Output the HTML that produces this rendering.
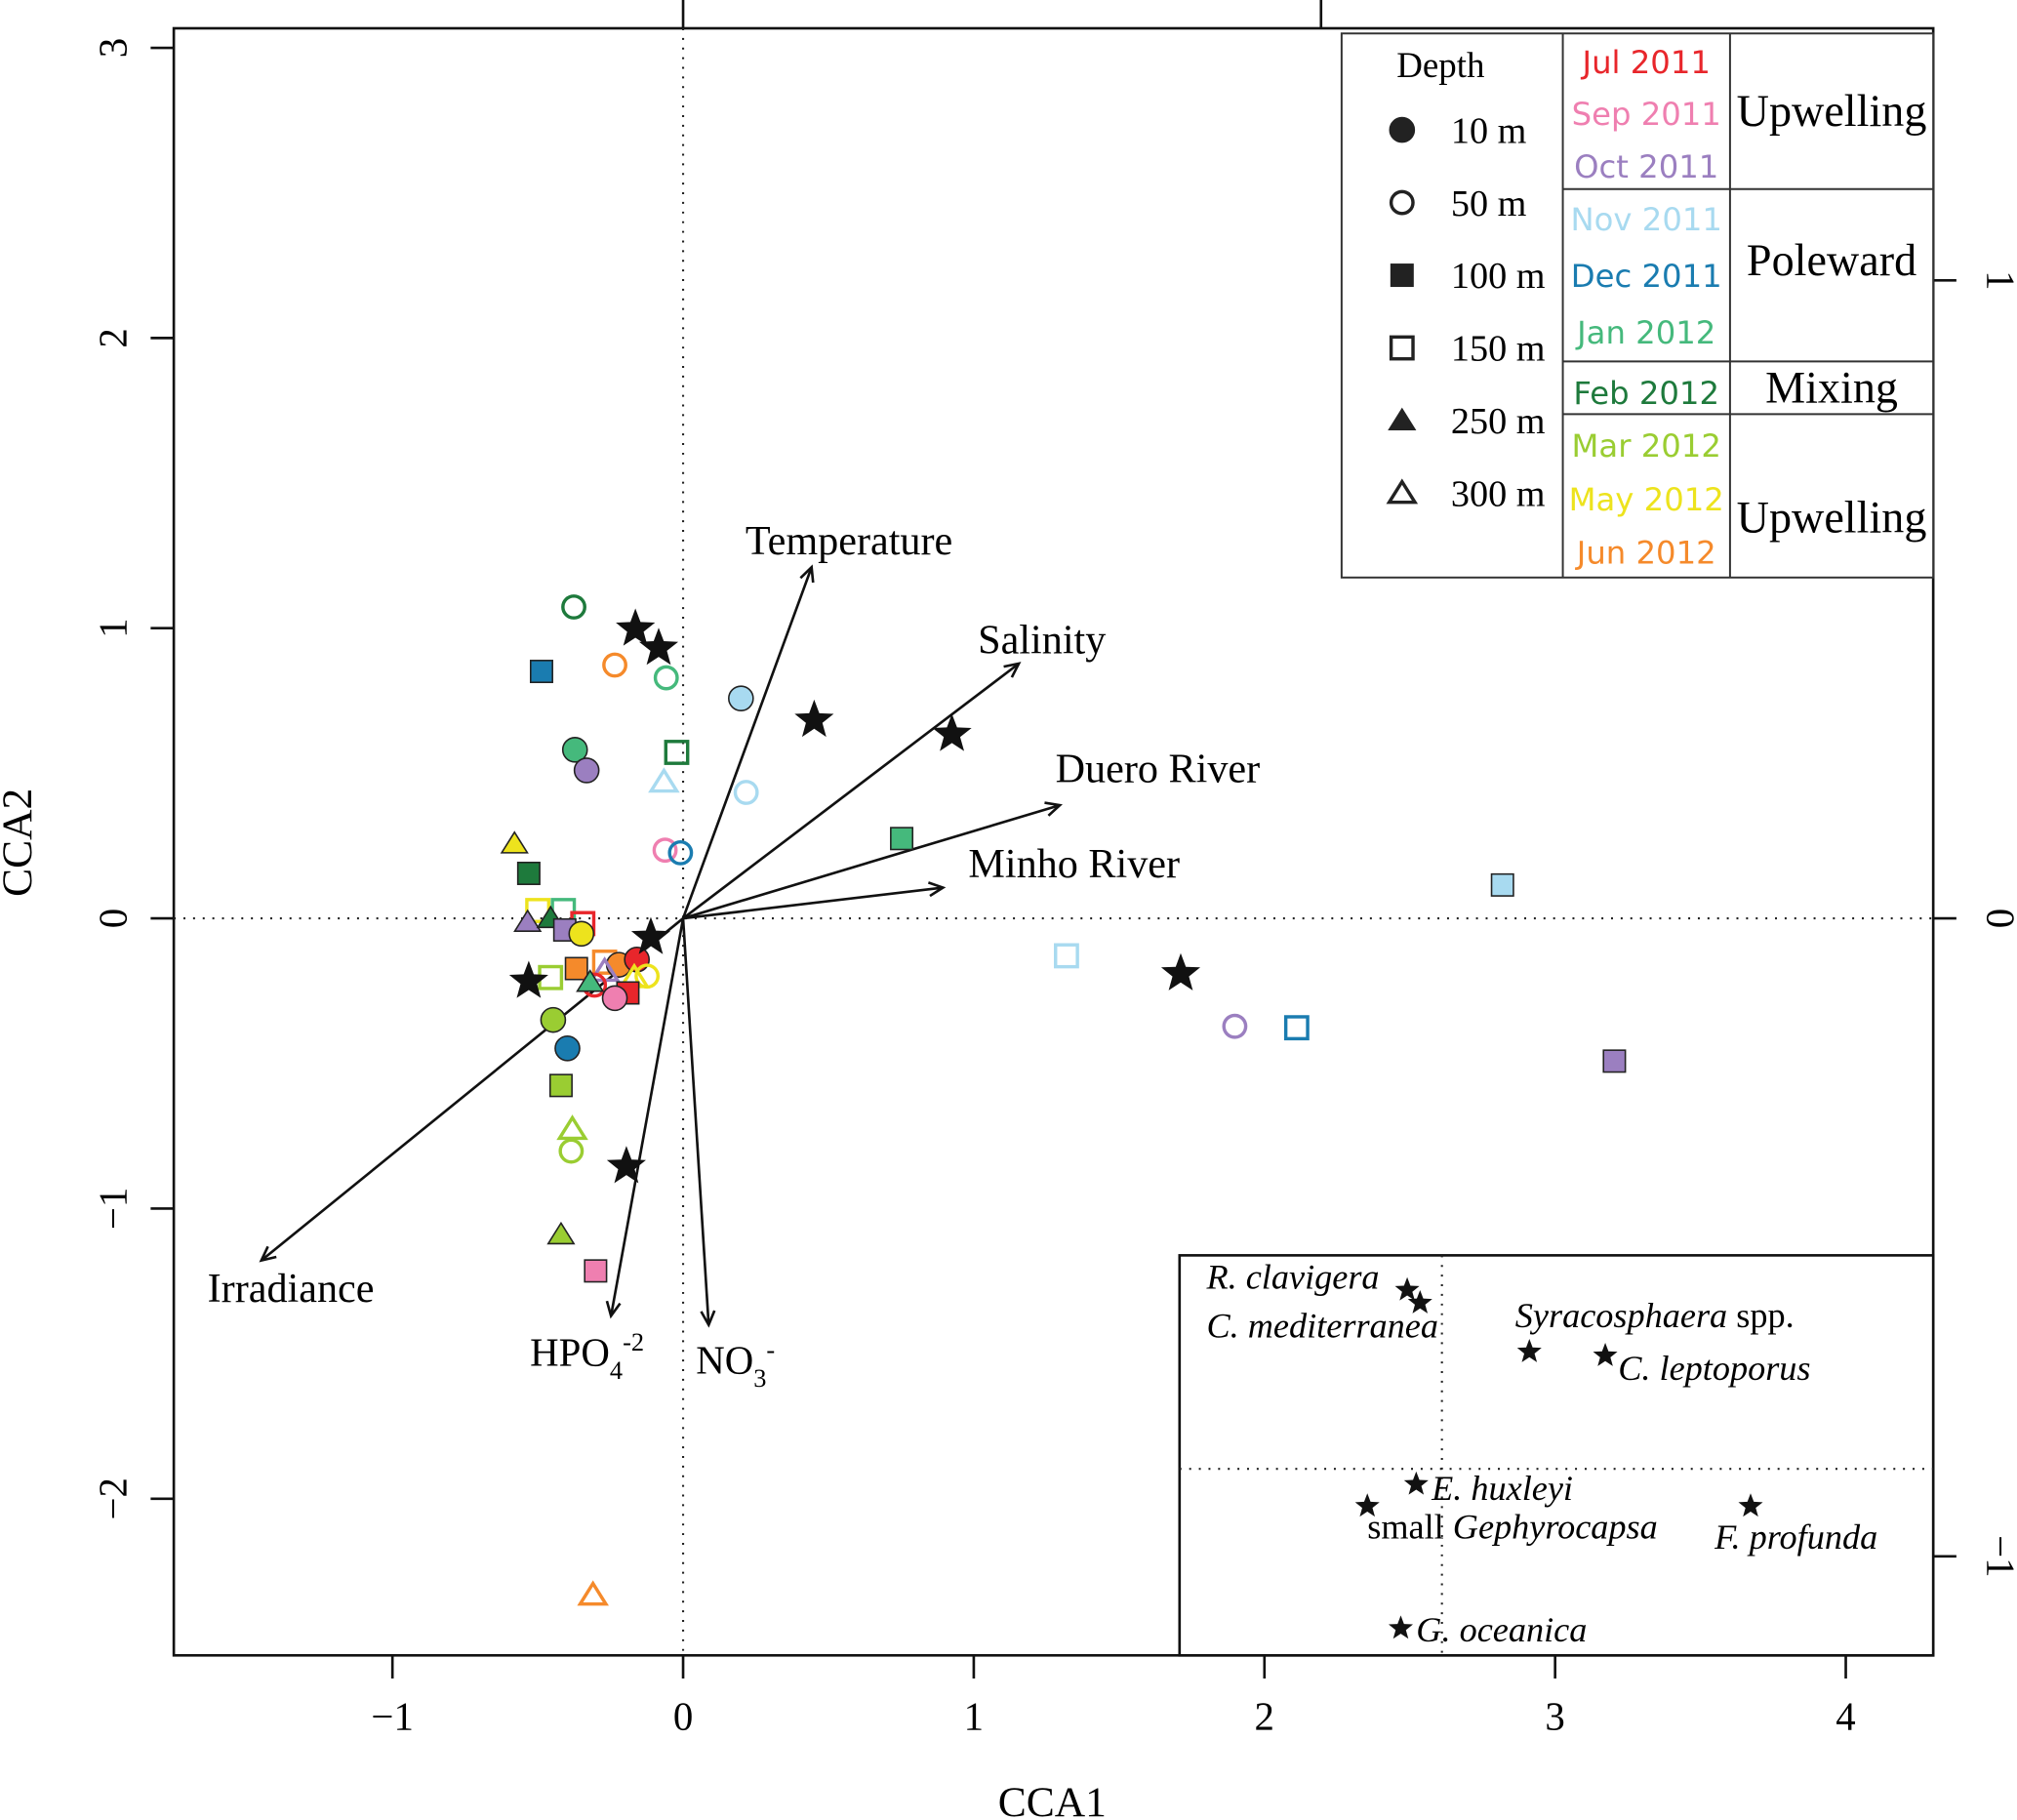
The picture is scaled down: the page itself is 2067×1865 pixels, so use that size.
<!DOCTYPE html>
<html><head><meta charset="utf-8"><style>
html,body{margin:0;padding:0;background:#fff}
svg{display:block}
.serif{font-family:"Liberation Serif",serif}
.sans{font-family:"DejaVu Sans","Liberation Sans",sans-serif}
</style></head><body>
<svg id="chart" width="2067" height="1865" viewBox="0 0 1568 1415" xmlns="http://www.w3.org/2000/svg">
<g id="axes"></g>
<g id="arrows"></g>
<g id="points"></g>
<g id="inset"></g>
<g id="legend"></g>
</svg>
<script>
// ---------- data ----------
const months = ["Jul","Sep","Oct","Nov","Dec","Jan","Feb","Mar","May","Jun"];
const monthColors = ["#e8262b","#ef7fb0","#9b7fc0","#a8daf0","#1a7cb0","#45b97c","#1e7a3c","#9acd32","#ede31d","#f58a2b"];
const sampleMonth = ["Feb","Dec","Jun","Jan","Nov","Jan","Oct","Feb","Nov","Nov","Sep","Dec","Jan","May","Feb","Nov","May","Jan","Jul","Oct","Feb","Oct","May","Nov","Mar","Jun","Jun","Jun","Jul","May","May","Oct","Jul","Jul","Sep","Mar","Dec","Oct","Dec","Oct","Mar","Mar","Mar","Mar","Sep","Jun","Jan"];
const sampleShape = ["oc","fs","oc","oc","fc","fc","fc","os","ot","oc","oc","oc","fs","ft","fs","fs","os","os","os","ft","ft","fs","fc","os","os","fs","os","fc","fc","oc","ot","ot","oc","fs","fc","fc","fc","oc","os","fs","fs","ot","oc","ft","fs","ot","ft"];
const sampleX = [-0.376,-0.487,-0.235,-0.058,0.199,-0.372,-0.332,-0.022,-0.066,0.217,-0.062,-0.009,0.752,-0.580,-0.531,2.819,-0.500,-0.412,-0.345,-0.535,-0.456,-0.407,-0.350,1.319,-0.456,-0.367,-0.270,-0.221,-0.159,-0.124,-0.168,-0.270,-0.305,-0.190,-0.235,-0.447,-0.398,1.898,2.111,3.204,-0.420,-0.381,-0.385,-0.420,-0.301,-0.310,-0.320];
const sampleY = [1.073,0.851,0.873,0.829,0.758,0.581,0.510,0.572,0.470,0.434,0.235,0.226,0.275,0.257,0.155,0.115,0.027,0.027,-0.018,-0.013,0.0,-0.040,-0.053,-0.129,-0.204,-0.173,-0.151,-0.160,-0.142,-0.199,-0.204,-0.182,-0.230,-0.257,-0.275,-0.350,-0.448,-0.372,-0.377,-0.492,-0.576,-0.727,-0.802,-1.090,-1.215,-2.332,-0.220];
const starX = [-0.164,-0.084,0.451,0.925,-0.111,-0.531,1.712,-0.195];
const starY = [0.997,0.931,0.683,0.634,-0.066,-0.217,-0.191,-0.855];
const vecNames = ["Temperature","Salinity","Duero River","Minho River","Irradiance","HPO4","NO3"];
const vecX = [0.442,1.155,1.296,0.894,-1.451,-0.248,0.088];
const vecY = [1.210,0.878,0.390,0.106,-1.179,-1.370,-1.401];
const speciesNames = ["R. clavigera","C. mediterranea","Syracosphaera spp.","C. leptoporus","E. huxleyi","small Gephyrocapsa","F. profunda","G. oceanica"];
const speciesX = [-0.27,-0.17,0.68,1.27,-0.20,-0.58,2.40,-0.32];
const speciesY = [1.39,1.29,0.91,0.88,-0.12,-0.29,-0.29,-1.24];
const xTicks = [-1,0,1,2,3,4];
const yTicks = [-2,-1,0,1,2,3];
const y2Ticks = [-1,0,1];

// ---------- scales ----------
const X = v => 531 + v*226;
const Y = v => 714 - v*225.6;
const Y2 = v => 714 - v*496;
const IX = v => 1121 + v*100;
const IY = v => 1142 - v*100;
const NS = "http://www.w3.org/2000/svg";
function mk(tag, attrs, parent, text){
  const e = document.createElementNS(NS, tag);
  for (const k in attrs) e.setAttribute(k, attrs[k]);
  if (text !== undefined) e.textContent = text;
  parent.appendChild(e); return e;
}
function starPath(cx, cy, R){
  const r = R*0.42; let d = "";
  for (let i=0;i<10;i++){
    const a = -Math.PI/2 + i*Math.PI/5, rr = i%2?r:R;
    d += (i?"L":"M") + (cx+rr*Math.cos(a)).toFixed(1) + " " + (cy+rr*Math.sin(a)).toFixed(1);
  }
  return d + "Z";
}

// ---------- axes ----------
const ax = document.getElementById("axes");
let e = mk("rect",{x:135,y:22,width:1368,height:1265,fill:"none",stroke:"#111","stroke-width":2},ax);
 
e = mk("line",{x1:135,x2:1503,y1:Y(0),y2:Y(0),stroke:"#222","stroke-width":1.6,"stroke-dasharray":"1.5 6"},ax);
 
e = mk("line",{x1:X(0),x2:X(0),y1:22,y2:1287,stroke:"#222","stroke-width":1.6,"stroke-dasharray":"1.5 6"},ax);
 
xTicks.forEach(t=>{
  mk("line",{x1:X(t),x2:X(t),y1:1287,y2:1305,stroke:"#111","stroke-width":2},ax);
  const l = mk("text",{x:X(t),y:1345,"text-anchor":"middle","font-size":31,class:"serif"},ax,t<0?"\u2212"+(-t):String(t));
   
});
yTicks.forEach(t=>{
  mk("line",{x1:117,x2:135,y1:Y(t),y2:Y(t),stroke:"#111","stroke-width":2},ax);
  const l = mk("text",{x:0,y:0,"text-anchor":"middle","font-size":31,class:"serif",transform:`translate(98 ${Y(t)}) rotate(-90)`},ax,t<0?"\u2212"+(-t):String(t));
   
});
y2Ticks.forEach(t=>{
  mk("line",{x1:1503,x2:1521,y1:Y2(t),y2:Y2(t),stroke:"#111","stroke-width":2},ax);
  const l = mk("text",{x:0,y:0,"text-anchor":"middle","font-size":31,class:"serif",transform:`translate(1545 ${Y2(t)}) rotate(90)`},ax,t<0?"\u2212"+(-t):String(t));
   
});
[531,1027].forEach(px=>mk("line",{x1:px,x2:px,y1:0,y2:22,stroke:"#111","stroke-width":2},ax));
e = mk("text",{x:818,y:1412,"text-anchor":"middle","font-size":33,class:"serif"},ax,"CCA1");
 
e = mk("text",{x:0,y:0,"text-anchor":"middle","font-size":33,class:"serif",transform:"translate(24 655) rotate(-90)"},ax,"CCA2");
 

// ---------- arrows ----------
const ar = document.getElementById("arrows");
const labelPos = [[660,431],[810,508],[900,608],[835,682],[226,1012],[412,1062],[541,1068]];
vecNames.forEach((n,i)=>{
  const x2 = X(vecX[i]), y2 = Y(vecY[i]), x1 = X(0), y1 = Y(0);
  const ln = mk("line",{x1,y1,x2,y2,stroke:"#111","stroke-width":2},ar);
  
  
  const a = Math.atan2(y2-y1,x2-x1), h=12, s=0.45;
  mk("path",{d:`M${x2-h*Math.cos(a-s)} ${y2-h*Math.sin(a-s)}L${x2} ${y2}L${x2-h*Math.cos(a+s)} ${y2-h*Math.sin(a+s)}`,fill:"none",stroke:"#111","stroke-width":2},ar);
  let t;
  if (n==="HPO4"){
    t = mk("text",{x:labelPos[i][0],y:labelPos[i][1],"font-size":31,class:"serif"},ar);
    t.innerHTML = 'HPO<tspan dy="10" font-size="20">4</tspan><tspan dy="-22" font-size="20">-2</tspan>';
  } else if (n==="NO3"){
    t = mk("text",{x:labelPos[i][0],y:labelPos[i][1],"font-size":31,class:"serif"},ar);
    t.innerHTML = 'NO<tspan dy="10" font-size="20">3</tspan><tspan dy="-22" font-size="20">-</tspan>';
  } else {
    t = mk("text",{x:labelPos[i][0],y:labelPos[i][1],"text-anchor":"middle","font-size":32,class:"serif"},ar,n);
  }
   
});

// ---------- markers ----------
function marker(parent, shape, cx, cy, col){
  const filled = shape[0]==="f", k = shape[1];
  const fa = filled ? {fill:col,stroke:"#222","stroke-width":1.2} : {fill:"none",stroke:col,"stroke-width":2.6};
  let m;
  if (k==="c") m = mk("circle",Object.assign({cx,cy,r:filled?9.5:8.5},fa),parent);
  else if (k==="s") m = mk("rect",Object.assign({x:cx-8.5,y:cy-8.5,width:17,height:17},fa),parent);
  else m = mk("path",Object.assign({d:`M${cx} ${cy-9}L${cx+10} ${cy+7}L${cx-10} ${cy+7}Z`},fa),parent);
  return m;
}
const pt = document.getElementById("points");
sampleX.forEach((v,i)=>{
  const col = monthColors[months.indexOf(sampleMonth[i])];
  const m = marker(pt, sampleShape[i], X(v), Y(sampleY[i]), col);
  
  
});
starX.forEach((v,i)=>{
  const s = mk("path",{d:starPath(X(v),Y(starY[i]),16),fill:"#111"},pt);
  
  
});

// ---------- inset ----------
const ins = document.getElementById("inset");
e = mk("rect",{x:917,y:976,width:586,height:311,fill:"#fff",stroke:"#111","stroke-width":2},ins);
 
mk("line",{x1:917,x2:1503,y1:IY(0),y2:IY(0),stroke:"#222","stroke-width":1.6,"stroke-dasharray":"1.5 6"},ins);
mk("line",{x1:IX(0),x2:IX(0),y1:976,y2:1287,stroke:"#222","stroke-width":1.6,"stroke-dasharray":"1.5 6"},ins);
const spLabel = [[938,1002],[938,1040],[1178,1032],[1258,1073],[1113,1166],[1063,1196],[1333,1204],[1101,1276]];
speciesNames.forEach((n,i)=>{
  const s = mk("path",{d:starPath(IX(speciesX[i]),IY(speciesY[i]),10),fill:"#111"},ins);
  
  
  const t = mk("text",{x:spLabel[i][0],y:spLabel[i][1],"font-size":27.5,"font-style":"italic",class:"serif"},ins);
  if (n==="Syracosphaera spp.") t.innerHTML='Syracosphaera <tspan font-style="normal">spp.</tspan>';
  else if (n==="small Gephyrocapsa") t.innerHTML='<tspan font-style="normal">small </tspan>Gephyrocapsa';
  else t.textContent = n;
  
  
});

// ---------- legend ----------
const lg = document.getElementById("legend");
e = mk("rect",{x:1043,y:26,width:460,height:423,fill:"#fff",stroke:"#333","stroke-width":1.5},lg);
 
mk("line",{x1:1215,x2:1215,y1:26,y2:449,stroke:"#333","stroke-width":1.5},lg);
mk("line",{x1:1345,x2:1345,y1:26,y2:449,stroke:"#333","stroke-width":1.5},lg);
[147,281,322].forEach(y=>mk("line",{x1:1215,x2:1503,y1:y,y2:y,stroke:"#333","stroke-width":1.5},lg));
e = mk("text",{x:1120,y:60,"text-anchor":"middle","font-size":28,class:"serif"},lg,"Depth");
 
const depthLabels = ["10 m","50 m","100 m","150 m","250 m","300 m"];
const depthShapes = ["fc","oc","fs","os","ft","ot"];
depthLabels.forEach((d,i)=>{
  const y = 101 + i*56.5;
  marker(lg, depthShapes[i], 1090, y, "#222").setAttribute("stroke","#222");
  const t = mk("text",{x:1128,y:y+10,"font-size":29,class:"serif"},lg,d);
  
  
});
const monthLabels = ["Jul 2011","Sep 2011","Oct 2011","Nov 2011","Dec 2011","Jan 2012","Feb 2012","Mar 2012","May 2012","Jun 2012"];
const monthY = [57,97,138,179,223,267,314,355,397,438];
monthLabels.forEach((m,i)=>{
  const t = mk("text",{x:1280,y:monthY[i],"text-anchor":"middle","font-size":24.5,fill:monthColors[i],class:"sans"},lg,m);
  
  
});
[["Upwelling",98],["Poleward",214],["Mixing",313],["Upwelling",414]].forEach(p=>{
  const t = mk("text",{x:1424,y:p[1],"text-anchor":"middle","font-size":35,class:"serif"},lg,p[0]);
  
  
});
</script>
</body></html>
